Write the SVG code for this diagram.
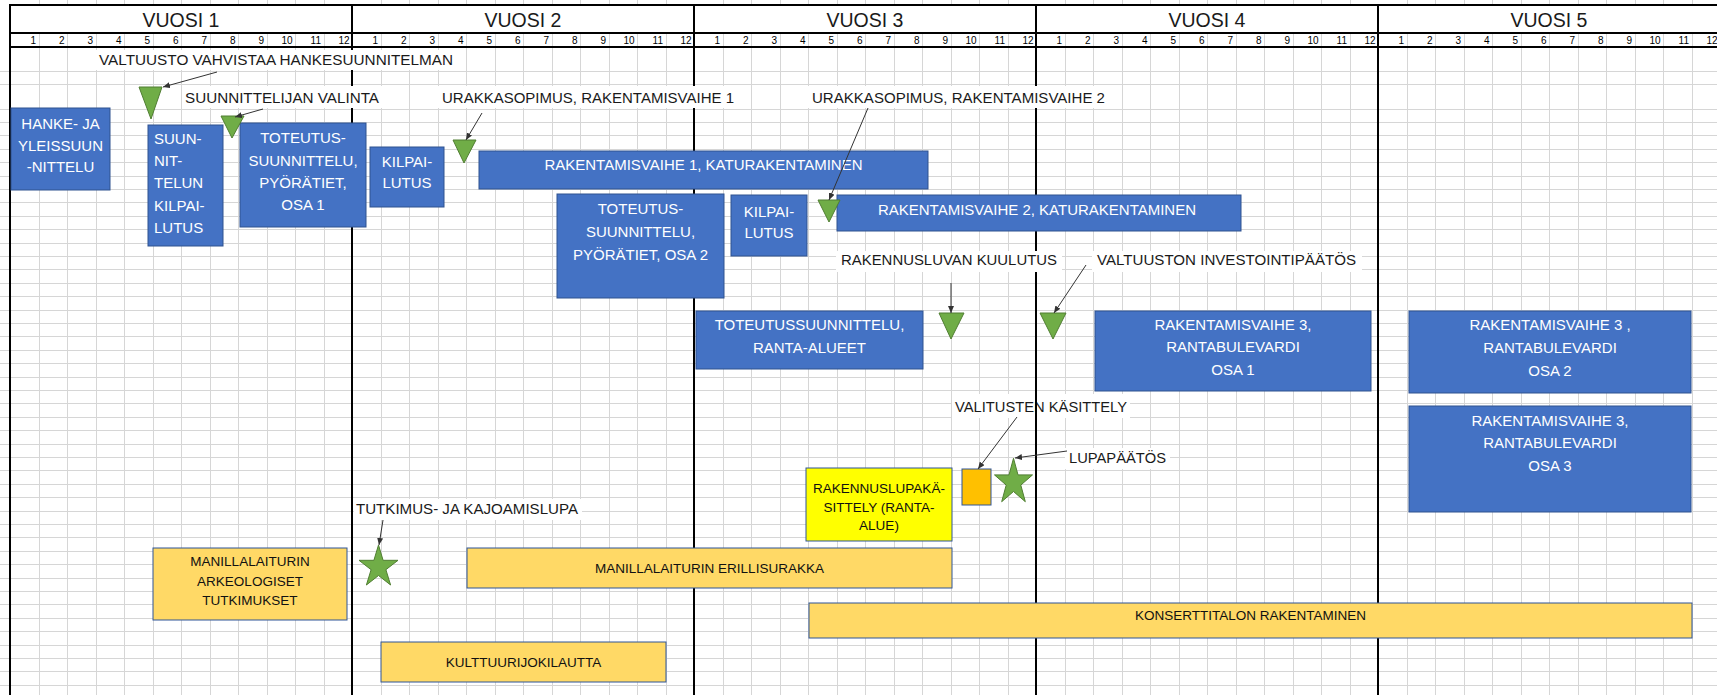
<svg xmlns="http://www.w3.org/2000/svg" width="1717" height="695" viewBox="0 0 1717 695">
<style>
text{font-family:"Liberation Sans",Arial,sans-serif}
.grid{stroke:#d6d6d6;stroke-width:1;fill:none}
.rule{stroke:#000;stroke-width:2;fill:none}
.yr{font-size:19.5px;fill:#1a1a1a;text-anchor:middle}
.mo{font-size:10px;fill:#000;text-anchor:end}
.blue{fill:#4472C4;stroke:#2F528F;stroke-width:1}
.gold{fill:#FFD966;stroke:#2F5597;stroke-width:1}
.yel{fill:#FFFF00;stroke:#2F5597;stroke-width:1}
.org{fill:#FFC000;stroke:#2F5597;stroke-width:1}
.ms{fill:#70AD47;stroke:#507E32;stroke-width:1}
.wt{font-size:15px;fill:#fff;text-anchor:middle}
.wl{font-size:15px;fill:#fff}
.bt{font-size:13.5px;fill:#111;text-anchor:middle}
.ann{font-size:15px;fill:#1a1a1a}
.bg{fill:#fff}
.conn{stroke:#333;stroke-width:1;fill:none;marker-end:url(#ah)}
</style>
<defs>
<marker id="ah" markerWidth="7" markerHeight="6" refX="7" refY="3" orient="auto" markerUnits="userSpaceOnUse"><path d="M0,0 L7,3 L0,6 z" fill="#333"/></marker>
<path id="vg" class="grid" d="M39.5 0V695M67.5 0V695M96.5 0V695M124.5 0V695M153.5 0V695M181.5 0V695M210.5 0V695M238.5 0V695M267.5 0V695M295.5 0V695M324.5 0V695"/>
<g id="months">
<text class="mo" x="36" y="44">1</text><text class="mo" x="64.5" y="44">2</text><text class="mo" x="93" y="44">3</text><text class="mo" x="121.5" y="44">4</text><text class="mo" x="150" y="44">5</text><text class="mo" x="178.5" y="44">6</text><text class="mo" x="207" y="44">7</text><text class="mo" x="235.5" y="44">8</text><text class="mo" x="264" y="44">9</text><text class="mo" x="292.5" y="44">10</text><text class="mo" x="321" y="44">11</text><text class="mo" x="349.5" y="44">12</text>
</g>
</defs>
<rect width="1717" height="695" fill="#fff"/>
<g id="gridlines">
<use href="#vg"/><use href="#vg" x="342"/><use href="#vg" x="684"/><use href="#vg" x="1026"/><use href="#vg" x="1368"/>
<path class="grid" d="M0 71.5H1717M0 84.5H1717M0 109.5H1717M0 122.5H1717M0 135.5H1717M0 149.5H1717M0 162.5H1717M0 176.5H1717M0 189.5H1717M0 202.5H1717M0 216.5H1717M0 229.5H1717M0 243.5H1717M0 256.5H1717M0 269.5H1717M0 283.5H1717M0 296.5H1717M0 310.5H1717M0 323.5H1717M0 336.5H1717M0 350.5H1717M0 363.5H1717M0 377.5H1717M0 390.5H1717M0 403.5H1717M0 417.5H1717M0 430.5H1717M0 444.5H1717M0 457.5H1717M0 470.5H1717M0 484.5H1717M0 497.5H1717M0 511.5H1717M0 524.5H1717M0 537.5H1717M0 551.5H1717M0 564.5H1717M0 578.5H1717M0 591.5H1717M0 604.5H1717M0 618.5H1717M0 631.5H1717M0 645.5H1717M0 658.5H1717M0 671.5H1717M0 685.5H1717"/>
</g>
<g id="header">
<rect x="10" y="5" width="1707" height="28" fill="#fff"/>
<text class="yr" x="181" y="27">VUOSI 1</text>
<text class="yr" x="523" y="27">VUOSI 2</text>
<text class="yr" x="865" y="27">VUOSI 3</text>
<text class="yr" x="1207" y="27">VUOSI 4</text>
<text class="yr" x="1549" y="27">VUOSI 5</text>
<use href="#months"/><use href="#months" x="342"/><use href="#months" x="684"/><use href="#months" x="1026"/><use href="#months" x="1368"/>
</g>
<g id="valitusten-kasittely">
<rect class="bg" x="952" y="394" width="178" height="24"/>
<text class="ann" x="955" y="412" textLength="172" lengthAdjust="spacingAndGlyphs">VALITUSTEN KÄSITTELY</text>
</g>
<g id="rules">
<path class="rule" d="M9 5H1717M9 33H1717M9 47H1717M10 5V695M352 5V695M694 5V695M1036 5V695M1378 5V695"/>
</g>
<g id="valtuusto-vahvistaa">
<rect class="bg" x="96" y="50" width="361" height="20"/>
<text class="ann" x="99" y="65" textLength="354" lengthAdjust="spacingAndGlyphs">VALTUUSTO VAHVISTAA HANKESUUNNITELMAN</text>
</g>
<g id="suunnittelijan-valinta">
<rect class="bg" x="182" y="86" width="201" height="22"/>
<text class="ann" x="185" y="103" textLength="194" lengthAdjust="spacingAndGlyphs">SUUNNITTELIJAN VALINTA</text>
</g>
<g id="urakkasopimus-1">
<rect class="bg" x="438" y="86" width="299" height="22"/>
<text class="ann" x="442" y="103" textLength="292" lengthAdjust="spacingAndGlyphs">URAKKASOPIMUS, RAKENTAMISVAIHE 1</text>
</g>
<g id="urakkasopimus-2">
<rect class="bg" x="808" y="86" width="300" height="22"/>
<text class="ann" x="812" y="103" textLength="293" lengthAdjust="spacingAndGlyphs">URAKKASOPIMUS, RAKENTAMISVAIHE 2</text>
</g>
<g id="rakennusluvan-kuulutus">
<rect class="bg" x="836" y="251" width="226" height="21"/>
<text class="ann" x="841" y="265" textLength="216" lengthAdjust="spacingAndGlyphs">RAKENNUSLUVAN KUULUTUS</text>
</g>
<g id="valtuuston-investointipaatos">
<rect class="bg" x="1092" y="251" width="270" height="21"/>
<text class="ann" x="1097" y="265" textLength="259" lengthAdjust="spacingAndGlyphs">VALTUUSTON INVESTOINTIPÄÄTÖS</text>
</g>
<g id="lupapaatos">
<rect class="bg" x="1065" y="448" width="105" height="21"/>
<text class="ann" x="1069" y="463" textLength="97" lengthAdjust="spacingAndGlyphs">LUPAPÄÄTÖS</text>
</g>
<g id="tutkimuslupa">
<rect class="bg" x="354" y="499" width="228" height="21"/>
<text class="ann" x="356" y="514" textLength="222" lengthAdjust="spacingAndGlyphs">TUTKIMUS- JA KAJOAMISLUPA</text>
</g>
<g id="hanke">
<rect class="blue" x="11" y="108" width="99" height="82"/>
<text class="wt" x="60.5" y="129">HANKE- JA</text>
<text class="wt" x="60.5" y="151">YLEISSUUN</text>
<text class="wt" x="60.5" y="172">-NITTELU</text>
</g>
<g id="suunnittelun-kilpailutus">
<rect class="blue" x="148" y="125" width="75" height="121"/>
<text class="wl" x="154" y="144">SUUN-</text>
<text class="wl" x="154" y="166">NIT-</text>
<text class="wl" x="154" y="188">TELUN</text>
<text class="wl" x="154" y="211">KILPAI-</text>
<text class="wl" x="154" y="233">LUTUS</text>
</g>
<g id="toteutus-osa1">
<rect class="blue" x="240" y="123" width="126" height="104"/>
<text class="wt" x="303" y="143">TOTEUTUS-</text>
<text class="wt" x="303" y="166">SUUNNITTELU,</text>
<text class="wt" x="303" y="188">PYÖRÄTIET,</text>
<text class="wt" x="303" y="210">OSA 1</text>
</g>
<g id="kilpailutus-1">
<rect class="blue" x="370" y="147" width="74" height="60"/>
<text class="wt" x="407" y="167">KILPAI-</text>
<text class="wt" x="407" y="188">LUTUS</text>
</g>
<g id="rakentamisvaihe-1">
<rect class="blue" x="479" y="151" width="449" height="38"/>
<text class="wt" x="703.5" y="170">RAKENTAMISVAIHE 1, KATURAKENTAMINEN</text>
</g>
<g id="toteutus-osa2">
<rect class="blue" x="557" y="194" width="167" height="104"/>
<text class="wt" x="640.5" y="214">TOTEUTUS-</text>
<text class="wt" x="640.5" y="237">SUUNNITTELU,</text>
<text class="wt" x="640.5" y="260">PYÖRÄTIET, OSA 2</text>
</g>
<g id="kilpailutus-2">
<rect class="blue" x="731" y="195" width="76" height="61"/>
<text class="wt" x="769" y="217">KILPAI-</text>
<text class="wt" x="769" y="238">LUTUS</text>
</g>
<g id="rakentamisvaihe-2">
<rect class="blue" x="837" y="195" width="404" height="36"/>
<text class="wt" x="1037" y="215">RAKENTAMISVAIHE 2, KATURAKENTAMINEN</text>
</g>
<g id="toteutus-ranta">
<rect class="blue" x="696" y="311" width="227" height="58"/>
<text class="wt" x="809.5" y="330">TOTEUTUSSUUNNITTELU,</text>
<text class="wt" x="809.5" y="353">RANTA-ALUEET</text>
</g>
<g id="rakentamisvaihe-3-osa1">
<rect class="blue" x="1095" y="311" width="276" height="80"/>
<text class="wt" x="1233" y="330">RAKENTAMISVAIHE 3,</text>
<text class="wt" x="1233" y="352">RANTABULEVARDI</text>
<text class="wt" x="1233" y="375">OSA 1</text>
</g>
<g id="rakentamisvaihe-3-osa2">
<rect class="blue" x="1409" y="311" width="282" height="82"/>
<text class="wt" x="1550" y="330">RAKENTAMISVAIHE 3 ,</text>
<text class="wt" x="1550" y="353">RANTABULEVARDI</text>
<text class="wt" x="1550" y="376">OSA 2</text>
</g>
<g id="rakentamisvaihe-3-osa3">
<rect class="blue" x="1409" y="406" width="282" height="106"/>
<text class="wt" x="1550" y="426">RAKENTAMISVAIHE 3,</text>
<text class="wt" x="1550" y="448">RANTABULEVARDI</text>
<text class="wt" x="1550" y="471">OSA 3</text>
</g>
<g id="rakennuslupakasittely">
<rect class="yel" x="806" y="468" width="146" height="73"/>
<text class="bt" x="879" y="493">RAKENNUSLUPAKÄ-</text>
<text class="bt" x="879" y="512">SITTELY (RANTA-</text>
<text class="bt" x="879" y="530">ALUE)</text>
</g>
<g id="valitusten-kasittely-box">
<rect class="org" x="962" y="469" width="29" height="36"/>
</g>
<g id="lupapaatos-star">
<polygon class="ms" points="1013.5,458.3 1018,474.9 1032.5,474.9 1020.8,485.1 1025.3,501.7 1013.5,491.5 1001.7,501.7 1006.2,485.1 994.5,474.9 1009,474.9"/>
</g>
<g id="manillalaiturin-arkeologiset">
<rect class="gold" x="153" y="548" width="194" height="72"/>
<text class="bt" x="250" y="566">MANILLALAITURIN</text>
<text class="bt" x="250" y="586">ARKEOLOGISET</text>
<text class="bt" x="250" y="605">TUTKIMUKSET</text>
</g>
<g id="tutkimuslupa-star">
<polygon class="ms" points="378.5,545 383.1,560.3 398,560.3 385.9,569.7 390.6,585 378.5,575.5 366.4,585 371.1,569.7 359,560.3 373.9,560.3"/>
</g>
<g id="manillalaiturin-erillisurakka">
<rect class="gold" x="467" y="548" width="485" height="40"/>
<text class="bt" x="709.5" y="573">MANILLALAITURIN ERILLISURAKKA</text>
</g>
<g id="konserttitalo">
<rect class="gold" x="809" y="603" width="883" height="35"/>
<text class="bt" x="1250.5" y="620">KONSERTTITALON RAKENTAMINEN</text>
</g>
<g id="kulttuurijokilautta">
<rect class="gold" x="381" y="642" width="285" height="40"/>
<text class="bt" x="523.5" y="667">KULTTUURIJOKILAUTTA</text>
</g>
<g id="milestones">
<polygon class="ms" points="139,87 162,87 151,119"/>
<polygon class="ms" points="221,116 244,116 232,138"/>
<polygon class="ms" points="453,140 476,140 464,163"/>
<polygon class="ms" points="818,200 840,200 829,222"/>
<polygon class="ms" points="939,313 964,313 951,339"/>
<polygon class="ms" points="1040,313 1066,313 1053,339"/>
</g>
<g id="connectors">
<line class="conn" x1="217" y1="72" x2="163" y2="87"/>
<line class="conn" x1="263" y1="109" x2="235" y2="117"/>
<line class="conn" x1="482" y1="113" x2="466" y2="140"/>
<line class="conn" x1="868" y1="108" x2="829" y2="200"/>
<line class="conn" x1="951" y1="283" x2="951" y2="313"/>
<line class="conn" x1="1086" y1="265" x2="1054" y2="313"/>
<line class="conn" x1="1017" y1="417" x2="978" y2="469"/>
<line class="conn" x1="1067" y1="451" x2="1015" y2="458"/>
<line class="conn" x1="383" y1="520" x2="379" y2="545"/>
</g>
</svg>
